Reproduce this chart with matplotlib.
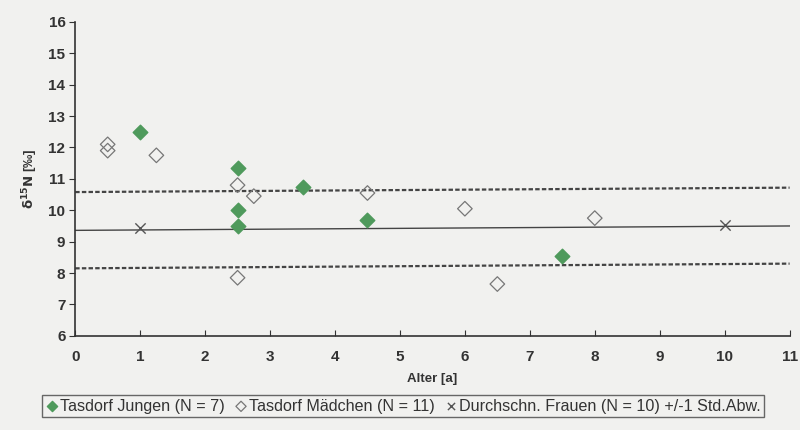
import numpy as np
import matplotlib.pyplot as plt

plt.rcParams['font.family'] = ['Liberation Sans', 'DejaVu Sans']

# Tasdorf Jungen (filled green diamonds)
jungen_alter = [1, 2.5, 2.5, 2.5, 3.5, 4.5, 7.5]
jungen_d15n = [12.5, 11.35, 10.0, 9.5, 10.75, 9.7, 8.55]

# Tasdorf Maedchen (open diamonds)
maedchen_alter = [0.5, 0.5, 1.25, 2.5, 2.5, 2.75, 4.5, 6, 6.5, 8]
maedchen_d15n = [12.1, 11.9, 11.75, 10.8, 7.85, 10.45, 10.55, 10.05, 7.65, 9.75]

# Durchschn. Frauen mean +/- 1 SD (line ends at x = 0 and x = 11)
linie_alter = [0, 11]
mittel = [9.36, 9.5]
oben = [10.58, 10.72]
unten = [8.15, 8.3]
frauen_alter = [1, 10]
frauen_d15n = [9.42, 9.54]

bg = '#f1f1ef'
fig = plt.figure(figsize=(8, 4.3), dpi=100, facecolor=bg)
ax = fig.add_axes([0.094, 0.219, 0.893, 0.73], facecolor=bg)

ax.plot(linie_alter, oben, color='#444444', lw=1.6, ls=(0, (2, 1)))
ax.plot(linie_alter, unten, color='#444444', lw=1.6, ls=(0, (2, 1)))
ax.plot(linie_alter, mittel, color='#444444', lw=1.0)

ax.scatter(jungen_alter, jungen_d15n, marker='D', s=55, color='#4f9a5c',
           edgecolors='#4f9a5c', zorder=3, label='Tasdorf Jungen (N = 7)')
ax.scatter(maedchen_alter, maedchen_d15n, marker='D', s=55, facecolors='none',
           edgecolors='#777777', linewidths=0.9, zorder=3,
           label='Tasdorf Mädchen (N = 11)')
ax.scatter(frauen_alter, frauen_d15n, marker='x', s=55, color='#555555',
           linewidths=1.0, zorder=3,
           label='Durchschn. Frauen (N = 10) +/-1 Std.Abw.')

ax.set_xlim(0, 11)
ax.set_ylim(6, 16)
ax.set_xticks(range(0, 12))
ax.set_yticks(range(6, 17))
ax.spines['top'].set_visible(False)
ax.spines['right'].set_visible(False)
for s in ['left', 'bottom']:
    ax.spines[s].set_color('#333333')
    ax.spines[s].set_linewidth(1.2)
ax.tick_params(direction='in', length=4, color='#333333', labelsize=11,
               labelcolor='#333333')
ax.tick_params(axis='x', pad=10)
ax.tick_params(axis='y', direction='out', pad=3)
for lab in ax.get_xticklabels() + ax.get_yticklabels():
    lab.set_fontweight('bold')

ax.set_xlabel('Alter [a]', fontsize=9.5, fontweight='bold', color='#333333', labelpad=7)
ax.set_ylabel(r'$\mathbf{\delta^{15}N}$ [‰]', fontsize=9.5, fontweight='bold',
              color='#333333', labelpad=6)

leg = fig.legend(loc='lower center', bbox_to_anchor=(0.504, 0.012), ncol=3,
                 frameon=True, fancybox=False, edgecolor='#444444',
                 facecolor=bg, fontsize=11.6, handletextpad=0.1,
                 columnspacing=0.6, handlelength=0.8, borderpad=0.2,
                 scatterpoints=1, markerscale=0.7)
leg.get_frame().set_linewidth(1.0)
for t in leg.get_texts():
    t.set_color('#333333')

fig.savefig('out.png', dpi=100, facecolor=bg)
